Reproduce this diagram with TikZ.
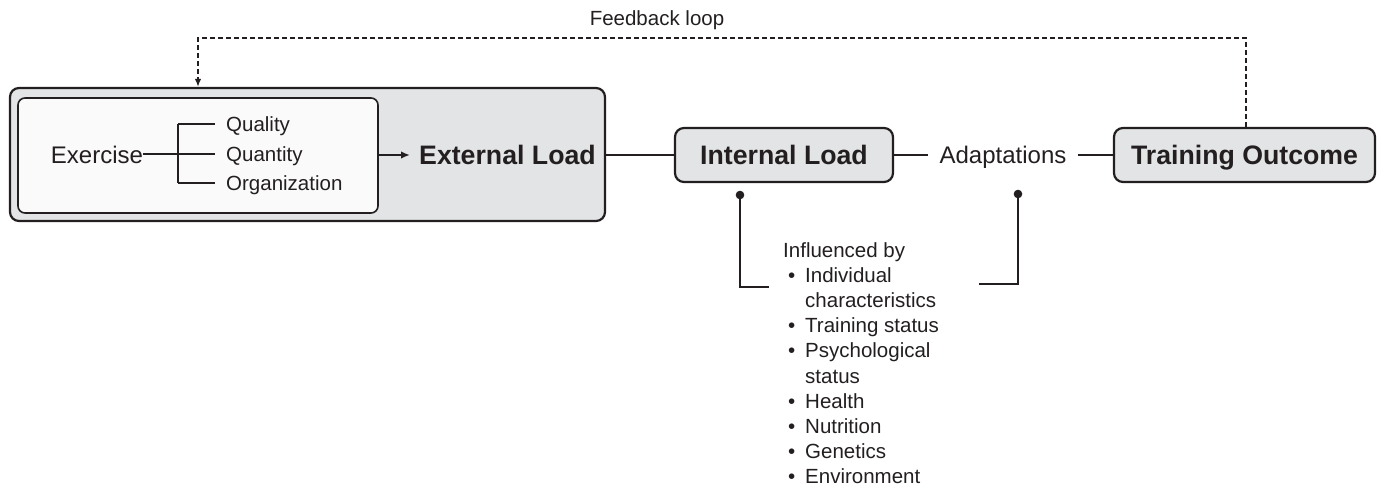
\documentclass[tikz,border=0pt]{standalone}
\usepackage{fontspec}
\setmainfont{Liberation Sans}
\usetikzlibrary{arrows.meta}
\definecolor{boxgray}{HTML}{E3E4E6}
\definecolor{innerfill}{HTML}{FAFAFA}
\definecolor{ink}{HTML}{231F20}
\newcommand\lbul{\makebox[22pt][l]{\hspace{5pt}•}}
\begin{document}
\begin{tikzpicture}[x=1pt,y=-1pt,
  box/.style={draw=ink, line width=2.2pt, rounded corners=9pt, fill=boxgray, inner sep=0pt},
  lbl/.style={inner sep=0pt, text=ink, font=\fontsize{24}{28}\selectfont, text height=17.2pt, text depth=0pt},
  smalllbl/.style={inner sep=0pt, text=ink, font=\fontsize{20.5}{25}\selectfont, text height=14.7pt, text depth=0pt},
  boldlbl/.style={text=ink, font=\fontsize{26.7}{30}\selectfont\bfseries, text height=19.1pt, text depth=0pt},
  conn/.style={draw=ink, line width=1.8pt},
  thinconn/.style={draw=ink, line width=1.4pt},
  fbline/.style={draw=ink, line width=1.7pt, dash pattern=on 5pt off 3pt},
]
\useasboundingbox (0,0) rectangle (1377,486);

% outer and inner boxes
\node[box, minimum width=595pt, minimum height=133pt] (outer) at (307.5,154.5) {};
\node[box, fill=innerfill, line width=1.6pt, rounded corners=7pt, minimum width=360pt, minimum height=115pt] (inner) at (198,155.5) {};

% exercise tree
\node[lbl] (ex) at (97,155) {Exercise};
\coordinate (br) at (178,154);
\coordinate (bt) at (178,124);
\coordinate (bb) at (178,183);
\node[smalllbl, anchor=west] (q1) at (226,124) {Quality};
\node[smalllbl, anchor=west] (q2) at (226,154) {Quantity};
\node[smalllbl, anchor=west] (q3) at (226,183) {Organization};
\draw[thinconn] (ex.east |- br) -- (br);
\draw[thinconn] (bt) -- (bb);
\draw[thinconn] (bt) -- ([xshift=-11pt]q1.west);
\draw[thinconn] (br) -- ([xshift=-11pt]q2.west);
\draw[thinconn] (bb) -- ([xshift=-11pt]q3.west);

% external load
\node[boldlbl, inner sep=0pt, anchor=west] (ext) at (419,155) {External Load};
\draw[conn, -{Latex[length=9pt,width=7.5pt]}] (inner.east |- ext.west) -- ([xshift=-9pt]ext.west);

% main chain
\node[box, boldlbl, minimum width=218pt, minimum height=54pt] (int) at (784,155) {Internal Load};
\node[lbl, inner xsep=11pt] (ad) at (1003,155) {Adaptations};
\node[box, boldlbl, minimum width=261pt, minimum height=54pt] (to) at (1244.5,155) {Training Outcome};
\draw[conn] (outer.east |- int.west) -- (int.west);
\draw[conn] (int.east) -- (ad.west);
\draw[conn] (ad.east) -- (to.west);

% feedback loop
\coordinate (fl) at (198,38);
\coordinate (fr) at (1246,38);
\draw[fbline, -{Latex[length=8pt,width=6.5pt]}] (fr |- to.north) -- (fr) -- (fl) -- (fl |- outer.north);
\node[smalllbl] (fbl) at (657,18) {Feedback loop};

% influence brackets
\coordinate (d1) at (740,195);
\coordinate (c1) at (769,287);
\coordinate (d2) at (1018,194);
\coordinate (c2) at (979,284);
\fill[ink] (d1) circle (4.3pt);
\fill[ink] (d2) circle (4.3pt);
\draw[thinconn] (d1) |- (c1);
\draw[thinconn] (d2) |- (c2);

\node[anchor=north west, inner sep=0pt, align=left, text=ink, font=\fontsize{20.5}{25.2}\selectfont] (inf) at (783,242)
{Influenced by\\
\lbul Individual\\
\hspace*{22pt}characteristics\\
\lbul Training status\\
\lbul Psychological\\
\hspace*{22pt}status\\
\lbul Health\\
\lbul Nutrition\\
\lbul Genetics\\
\lbul Environment};
\end{tikzpicture}
\end{document}
